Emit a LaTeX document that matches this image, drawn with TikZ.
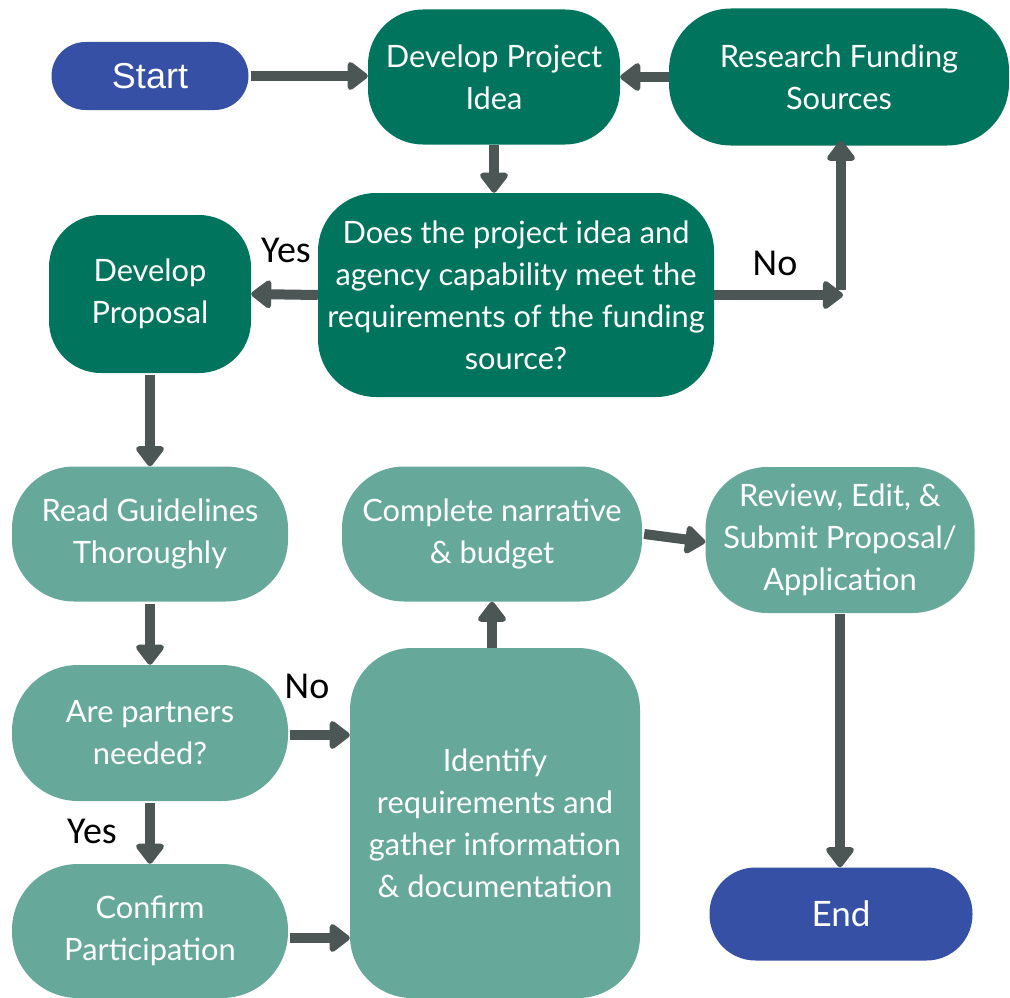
\documentclass[tikz,border=0pt]{standalone}
\usepackage{fontspec}
\setmainfont{Lato}
\newfontfamily\labelfont{Carlito}
\newfontfamily\termfont{Liberation Sans}
\usetikzlibrary{arrows.meta}

\definecolor{termblue}{HTML}{3550A5}
\definecolor{darkgreen}{HTML}{00745C}
\definecolor{lightteal}{HTML}{66A99A}
\definecolor{arrowgrey}{HTML}{4B5655}

\tikzset{
  box/.style={draw=none, text=white, align=center, inner sep=0pt,
    font=\fontsize{30.8}{42}\selectfont},
  darkbox/.style={box, fill=darkgreen},
  lightbox/.style={box, fill=lightteal},
  terminal/.style={box, fill=termblue},
  flow/.style={draw=arrowgrey, line width=10pt,
    -{Triangle[width=32pt,length=22pt,round]}},
  answer/.style={text=black, font=\labelfont\fontsize{38}{40}\selectfont, inner sep=0pt},
}

\begin{document}
\begin{tikzpicture}[x=1pt,y=-1pt]
\useasboundingbox (0,0) rectangle (1010,998);

% terminals
\node[terminal, rounded corners=34pt, minimum width=197pt, minimum height=68pt,
  font=\termfont\fontsize{36}{40}\selectfont] (start) at (150,76) {Start};
\node[terminal, rounded corners=46pt, minimum width=263pt, minimum height=93pt,
  font=\fontsize{35}{40}\selectfont] (end) at (841,914) {End};

% top section
\node[darkbox, rounded corners=55pt, minimum width=252pt, minimum height=135pt]
  (idea) at (494,77) {Develop Project\\Idea};
\node[darkbox, rounded corners=62pt, minimum width=340pt, minimum height=137pt]
  (research) at (839,77) {Research Funding\\Sources};
\node[darkbox, rounded corners=58pt, minimum width=396pt, minimum height=204pt]
  (decision) at (516,295) {Does the project idea and\\agency capability meet the\\requirements of the funding\\source?};
\node[darkbox, rounded corners=52pt, minimum width=202pt, minimum height=158pt]
  (proposal) at (150,294) {Develop\\Proposal};

% lower section
\node[lightbox, rounded corners=62pt, minimum width=276pt, minimum height=135pt]
  (read) at (150,534) {Read Guidelines\\Thoroughly};
\node[lightbox, rounded corners=66pt, minimum width=276pt, minimum height=136pt]
  (partners) at (150,733) {Are partners\\needed?};
\node[lightbox, rounded corners=66pt, minimum width=276pt, minimum height=134pt]
  (confirm) at (150,931) {Confirm\\Participation};
\node[lightbox, rounded corners=62pt, minimum width=290pt, minimum height=350pt]
  (identify) at (495,823) {Identify\\requirements and\\gather information\\\& documentation};
\node[lightbox, rounded corners=62pt, minimum width=300pt, minimum height=135pt]
  (complete) at (492,534) {Complete narrative\\\& budget};
\node[lightbox, rounded corners=62pt, minimum width=269pt, minimum height=146pt]
  (review) at (840,540) {Review, Edit, \&\\Submit Proposal/\\Application};

% turning point of the "No" branch
\coordinate (noturn) at (843,295);

% connectors
\draw[flow] ([xshift=2pt]start.east) -- (start.east -| idea.west);
\draw[flow] (research.west) -- (idea.east);
\draw[flow] (idea.south) -- (idea.south |- decision.north);
\draw[flow] (decision.west) -- (proposal.east);
\draw[flow] (decision.east) -- (noturn);
\draw[flow] ([xshift=-2pt,yshift=5pt]noturn) -- ([xshift=-2pt,yshift=5pt]noturn |- research.south);
\draw[flow] ([yshift=-2pt]proposal.south) -- (read.north);
\draw[flow] ([yshift=-2pt]read.south) -- (partners.north);
\draw[flow] ([yshift=-2pt]partners.south) -- (confirm.north);
\draw[flow] ([xshift=2pt,yshift=-2pt]partners.east) -- ([yshift=88pt]identify.west);
\draw[flow] ([xshift=2pt,yshift=-7pt]confirm.east) -- ([yshift=-115pt]identify.west);
\draw[flow] (complete.south |- identify.north) -- (complete.south);
\draw[flow] ([xshift=2pt]complete.east) -- ([yshift=-2pt]review.west);
\draw[flow] ([yshift=-1pt]review.south) -- (review.south |- end.north);

% answer labels
\node[answer] (yes1) at (286,250) {Yes};
\node[answer] (no1) at (775,263) {No};
\node[answer] (no2) at (307,686) {No};
\node[answer] (yes2) at (92,831) {Yes};
\end{tikzpicture}
\end{document}
